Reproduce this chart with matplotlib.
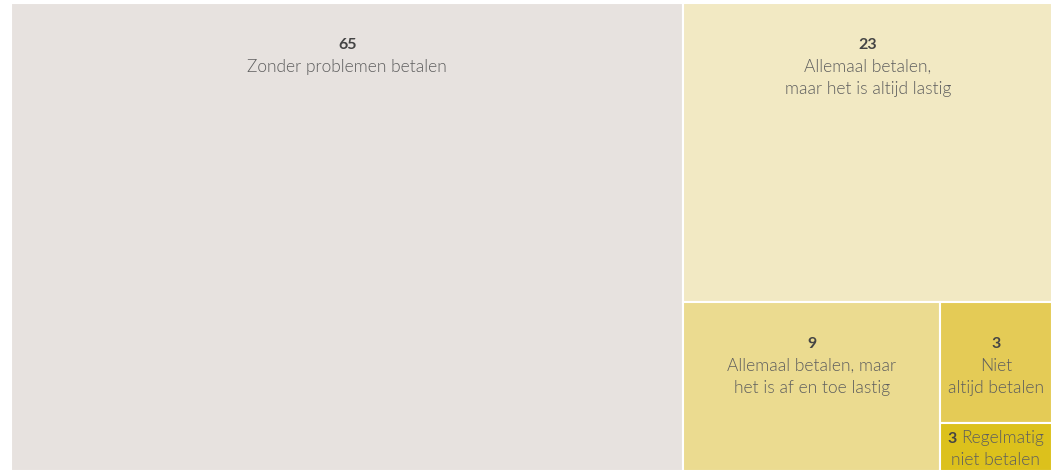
import matplotlib
matplotlib.use("Agg")
import matplotlib.pyplot as plt
from matplotlib.patches import Rectangle


# shares and shown numbers
labels = [
    "Zonder problemen betalen",
    "Allemaal betalen,\nmaar het is altijd lastig",
    "Allemaal betalen, maar\nhet is af en toe lastig",
    "Niet\naltijd betalen",
    "Regelmatig\nniet betalen",
]
shown = ["65", "23", "9", "3", "3"]
sizes = [64.6, 22.6, 8.9, 2.8, 1.1]
colors = ["#e7e2df", "#f2e9c3", "#ebdb90", "#e4cb56", "#dcc11c"]

FONT = "Lato"
TEXT_COLOR = "#5e5e5e"
NUM_COLOR = "#444444"
PX = 0.72  # points per pixel at dpi 100


def layout(sizes):
    # left column, then right: top box, bottom row (box + stacked pair)
    total = sum(sizes)
    w0 = sizes[0] / total
    right = sum(sizes[1:])
    h1 = sizes[1] / right
    bottom = sum(sizes[2:])
    w2 = sizes[2] / bottom * (1 - w0)
    pair = sizes[3] + sizes[4]
    h3 = sizes[3] / pair * (1 - h1)
    return [
        (0, 0, w0, 1),
        (w0, 0, 1 - w0, h1),
        (w0, h1, w2, 1 - h1),
        (w0 + w2, h1, 1 - w0 - w2, h3),
        (w0 + w2, h1 + h3, 1 - w0 - w2, 1 - h1 - h3),
    ]


def put(text, xy, dy, bold=False, ha="center", dx=0):
    return ax.annotate(
        text, xy,
        xytext=(dx, -dy * PX), textcoords="offset points",
        ha=ha, va="baseline",
        fontsize=11.5 if bold else 12.5,
        fontweight="bold" if bold else 300,
        color=NUM_COLOR if bold else TEXT_COLOR,
        family=FONT
    )


fig = plt.figure(figsize=(10.56, 4.70), dpi=100)
ax = fig.add_axes([11 / 1056, -1 / 470, 1041 / 1056, 468 / 470])
ax.set_xlim(0, 1)
ax.set_ylim(1, 0)
ax.axis("off")

rects = layout(sizes)

for (x, y, w, h), c in zip(rects, colors):
    ax.add_patch(
        Rectangle(
            (x, y), w, h,
            facecolor=c,
            edgecolor="white",
            linewidth=1.5
        )
    )

# big boxes: number on top, label lines below
for i in range(4):
    x, y, w, h = rects[i]
    cx = x + w / 2
    put(shown[i], (cx, y), 46, bold=True)
    for j, line in enumerate(labels[i].split("\n")):
        put(line, (cx, y), 69 + 22 * j)

# small box: number inline with label
x, y, w, h = rects[4]
cx = x + w / 2
first, second = labels[4].split("\n")
num = put(shown[4] + " ", (cx, y), 20, bold=True, ha="left")
word = put(first, (cx, y), 20, ha="left")
put(second, (cx, y), 42)

fig.canvas.draw()
r = fig.canvas.get_renderer()
wn = num.get_window_extent(r).width * 72 / fig.dpi
ww = word.get_window_extent(r).width * 72 / fig.dpi
half = (wn + ww) / 2
num.xyann = (-half, -20 * PX)
word.xyann = (-half + wn, -20 * PX)

fig.savefig("out.png", dpi=100)
